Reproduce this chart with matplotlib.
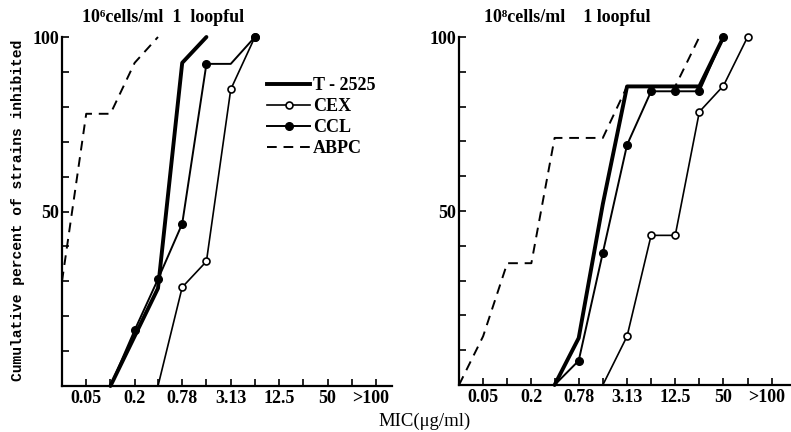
import matplotlib
matplotlib.use('Agg')
import matplotlib.pyplot as plt
from matplotlib.transforms import ScaledTranslation

plt.rcParams['font.family'] = ['Liberation Serif', 'DejaVu Serif']
plt.rcParams['font.weight'] = 'bold'

# MIC dilution steps (ug/ml); 200 stands for ">100"
mic = [0.025, 0.05, 0.1, 0.2, 0.39, 0.78, 1.56, 3.13, 6.25, 12.5, 25, 50, 100, 200]
mic_labels = ['', '0.05', '', '0.2', '', '0.78', '', '3.13', '', '12.5', '', '50', '', '>100']

# 10^6 cells/ml
t2525_a_x = [0.1, 0.39, 0.78, 1.56]
t2525_a_y = [0, 28, 92.6, 100]
cex_a_x = [0.39, 0.78, 1.56, 3.13, 6.25]
cex_a_y = [0, 28.3, 35.7, 85, 100]
ccl_a_x = [0.1, 0.2, 0.39, 0.78, 1.56, 3.13, 6.25]
ccl_a_y = [0, 16, 30.6, 46.5, 92.3, 92.3, 100]
abpc_a_x = [0.025, 0.05, 0.1, 0.2, 0.39]
abpc_a_y = [30, 78, 78, 92.6, 100]

# 10^8 cells/ml
t2525_b_x = [0.39, 0.78, 1.56, 3.13, 6.25, 12.5, 25, 50]
t2525_b_y = [0, 13.5, 52, 85.8, 85.8, 85.8, 85.8, 100]
cex_b_x = [1.56, 3.13, 6.25, 12.5, 25, 50, 100]
cex_b_y = [0, 14, 43, 43, 78.5, 86, 100]
ccl_b_x = [0.39, 0.78, 1.56, 3.13, 6.25, 12.5, 25, 50]
ccl_b_y = [0, 7, 38, 69, 84.4, 84.4, 84.4, 100]
abpc_b_x = [0.025, 0.05, 0.1, 0.2, 0.39, 1.56, 3.13, 12.5, 25]
abpc_b_y = [0, 14, 35, 35, 71, 71, 85.8, 85.8, 100]

fig = plt.figure(figsize=(7.91, 4.32), dpi=100)
ax1 = fig.add_axes([62 / 791, 46 / 432, 330 / 791, 349 / 432])
ax2 = fig.add_axes([459 / 791, 47 / 432, 332 / 791, 348 / 432])


def setup(ax, right_end):
    ax.set_xscale('log', base=2)
    ax.set_xlim(0.025, right_end)
    ax.set_ylim(0, 100)
    for s in ('top', 'right'):
        ax.spines[s].set_visible(False)
    for s in ('left', 'bottom'):
        ax.spines[s].set_linewidth(1.6)
    ax.set_xticks(mic[1:])
    ax.set_xticklabels(mic_labels[1:])
    ax.xaxis.set_minor_locator(matplotlib.ticker.NullLocator())
    ax.set_yticks(range(10, 101, 10))
    ax.set_yticklabels(['50' if v == 50 else '100' if v == 100 else '' for v in range(10, 101, 10)])
    ax.tick_params(direction='in', length=5, width=1.2, labelsize=13, pad=3)
    ax.tick_params(axis='y', pad=2, labelsize=13)
    # nudge ">100" a little to the left of its tick
    last = ax.get_xticklabels()[-1]
    last.set_transform(last.get_transform() + ScaledTranslation(-4 / 72, 0, fig.dpi_scale_trans))


def draw(ax, t_x, t_y, cex_x, cex_y, ccl_x, ccl_y, ab_x, ab_y, ccl_skip=()):
    ax.plot(ab_x, ab_y, color='black', lw=1.4, ls=(0, (5, 3.5)), clip_on=False)
    ax.plot(t_x, t_y, color='black', lw=2.8, solid_capstyle='round', clip_on=False)
    ccl_marks = [i for i in range(1, len(ccl_x)) if i not in ccl_skip]
    ax.plot(ccl_x, ccl_y, color='black', lw=1.4, marker='o', ms=5.5,
            markevery=ccl_marks, clip_on=False)
    ax.plot(cex_x, cex_y, color='black', lw=1.2, marker='o', ms=5, mfc='white',
            mew=1.2, markevery=list(range(1, len(cex_x))), clip_on=False, zorder=1.9)


setup(ax1, 200 * 2 ** 0.66)
setup(ax2, 200 * 2 ** 0.8)
draw(ax1, t2525_a_x, t2525_a_y, cex_a_x, cex_a_y, ccl_a_x, ccl_a_y, abpc_a_x, abpc_a_y, ccl_skip=(5,))
draw(ax2, t2525_b_x, t2525_b_y, cex_b_x, cex_b_y, ccl_b_x, ccl_b_y, abpc_b_x, abpc_b_y)

fig.text(163 / 791, 1 - 18 / 432, '10\u2076cells/ml  1  loopful', ha='center', va='center', fontsize=13)
fig.text(567 / 791, 1 - 18 / 432, '10\u2078cells/ml    1 loopful', ha='center', va='center', fontsize=13)
fig.text(18 / 791, 1 - 210 / 432, 'Cumulative percent of strains inhibited', rotation=90,
         ha='center', va='center', fontsize=10.5, family=['Liberation Mono', 'DejaVu Sans Mono'])
fig.text(425 / 791, 1 - 421 / 432, 'MIC(\u03bcg/ml)', ha='center', va='center', fontsize=13.5,
         fontweight='normal')

handles = [
    matplotlib.lines.Line2D([], [], color='black', lw=2.8),
    matplotlib.lines.Line2D([], [], color='black', lw=1.2, marker='o', ms=5, mfc='white', mew=1.2),
    matplotlib.lines.Line2D([], [], color='black', lw=1.4, marker='o', ms=5.5),
    matplotlib.lines.Line2D([], [], color='black', lw=1.4, ls=(0, (5, 3.5))),
]
fig.legend(handles, ['T - 2525', 'CEX', 'CCL', 'ABPC'], loc='upper left',
           bbox_to_anchor=(258 / 791, 1 - 68 / 432), frameon=False, fontsize=13,
           handlelength=2.4, handletextpad=0.15, labelspacing=0.22, borderpad=0)

fig.savefig('out.png', dpi=100)
